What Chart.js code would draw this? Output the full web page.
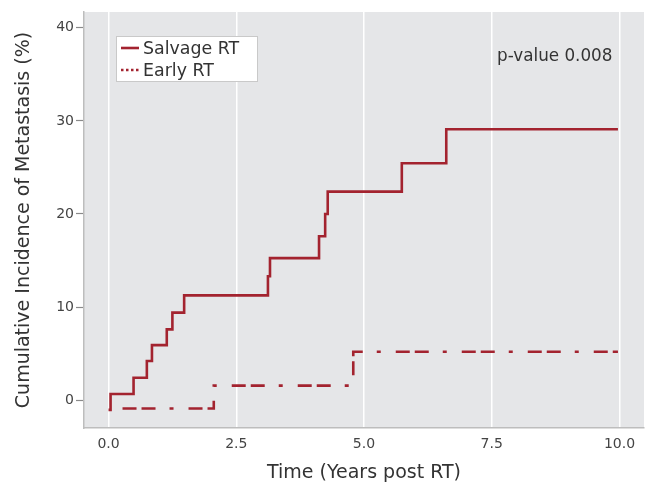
<!DOCTYPE html>
<html>
<head>
<meta charset="utf-8">
<script src="https://cdn.jsdelivr.net/npm/chart.js@4"></script>
<style>
  html, body { margin: 0; padding: 0; background: #ffffff; }
  #wrap { width: 647px; height: 487px; position: relative; }
</style>
</head>
<body>
<div id="wrap"><canvas id="c" width="647" height="487"></canvas></div>
<script>
// ---- data ----
const salvageTimes  = [0.0, 0.04, 0.49, 0.75, 0.85, 1.14, 1.25, 1.48, 3.12, 3.16, 4.12, 4.24, 4.29, 5.74, 6.61, 9.97];
const salvageValues = [-1.05, 0.65, 2.4, 4.2, 5.9, 7.6, 9.4, 11.25, 13.3, 15.25, 17.6, 20.0, 22.4, 25.45, 29.1, 29.1];
const earlyTimes    = [0.0, 2.06, 4.79, 9.97];
const earlyValues   = [-0.9, 1.55, 5.2, 5.2];
const seriesLabels  = ['Salvage RT', 'Early RT'];
const xTickValues   = [0, 2.5, 5, 7.5, 10];
const yTickValues   = [0, 10, 20, 30, 40];
const xTitle = 'Time (Years post RT)';
const yTitle = 'Cumulative Incidence of Metastasis (%)';
const annotationText = 'p-value 0.008';

const RED = '#a3232f';
const FONT = '"DejaVu Sans", sans-serif';
const TEXT = '#333333';

function toPoints(xs, ys) { return xs.map((x, i) => ({ x: x, y: ys[i] })); }

const panelPlugin = {
  id: 'panel',
  beforeDraw(chart) {
    const { ctx, chartArea: a } = chart;
    ctx.save();
    ctx.fillStyle = '#e5e6e8';
    ctx.fillRect(a.left, a.top, a.right - a.left, a.bottom - a.top);
    ctx.restore();
  },
  afterDraw(chart) {
    const { ctx } = chart;
    ctx.save();
    // legend box
    const bx = 116.5, by = 36.5, bw = 141, bh = 45;
    ctx.fillStyle = '#ffffff';
    ctx.fillRect(bx, by, bw, bh);
    ctx.strokeStyle = '#c9c9c9';
    ctx.lineWidth = 1;
    ctx.strokeRect(bx, by, bw, bh);
    chart.data.datasets.forEach((ds, i) => {
      const yc = 48 + 22 * i;
      ctx.strokeStyle = ds.borderColor;
      ctx.lineWidth = ds.borderWidth;
      ctx.setLineDash(i === 0 ? [] : [2.5, 2.5]);
      ctx.beginPath();
      ctx.moveTo(121, yc);
      ctx.lineTo(139, yc);
      ctx.stroke();
      ctx.setLineDash([]);
      ctx.fillStyle = TEXT;
      ctx.font = '17.4px ' + FONT;
      ctx.textBaseline = 'middle';
      ctx.textAlign = 'left';
      ctx.fillText(ds.label, 143, yc + 1);
    });
    // p-value
    ctx.fillStyle = TEXT;
    ctx.font = '16.8px ' + FONT;
    ctx.textBaseline = 'middle';
    ctx.textAlign = 'left';
    ctx.fillText(annotationText, 497, 57);
    ctx.restore();
  }
};

new Chart(document.getElementById('c'), {
  type: 'line',
  data: {
    datasets: [
      {
        label: seriesLabels[0],
        data: toPoints(salvageTimes, salvageValues),
        borderColor: RED,
        backgroundColor: RED,
        borderWidth: 2.6,
        stepped: 'before',
        pointRadius: 0,
        fill: false
      },
      {
        label: seriesLabels[1],
        data: toPoints(earlyTimes, earlyValues),
        borderColor: RED,
        backgroundColor: RED,
        borderWidth: 2.6,
        borderDash: [14, 5, 14, 14, 4, 15],
        borderDashOffset: 52,
        stepped: 'before',
        pointRadius: 0,
        fill: false
      }
    ]
  },
  options: {
    responsive: false,
    animation: false,
    devicePixelRatio: 1,
    layout: { padding: { top: 12, right: 3, left: 0, bottom: 0 } },
    plugins: { legend: { display: false }, tooltip: { enabled: false } },
    scales: {
      x: {
        type: 'linear',
        min: -0.48,
        max: 10.48,
        afterBuildTicks: (s) => { s.ticks = xTickValues.map(v => ({ value: v })); },
        afterFit: (s) => { s.height = 59; },
        ticks: {
          callback: (v) => Number(v).toFixed(1),
          color: '#444444',
          font: { family: FONT, size: 14 },
          padding: 8,
          maxRotation: 0,
          autoSkip: false
        },
        grid: { color: '#ffffff', lineWidth: 1.5, drawTicks: false },
        border: { display: true, color: '#bdbdbd', width: 1.5 },
        title: {
          display: true,
          text: xTitle,
          color: TEXT,
          font: { family: FONT, size: 19, lineHeight: 1.2 },
          padding: { top: 0, bottom: 3 }
        }
      },
      y: {
        type: 'linear',
        min: -3.0,
        max: 41.7,
        afterBuildTicks: (s) => { s.ticks = yTickValues.map(v => ({ value: v })); },
        afterFit: (s) => { s.width = 84; },
        ticks: {
          color: '#444444',
          font: { family: FONT, size: 14 },
          padding: 2
        },
        grid: { drawOnChartArea: false, drawTicks: true, tickLength: 8, tickColor: '#8a8a8a', tickWidth: 1.2 },
        border: { display: true, color: '#bdbdbd', width: 1.5 },
        title: {
          display: true,
          text: yTitle,
          color: TEXT,
          font: { family: FONT, size: 19, lineHeight: 1.2 },
          padding: { top: 13, bottom: 0 }
        }
      }
    }
  },
  plugins: [panelPlugin]
});
</script>
</body>
</html>
